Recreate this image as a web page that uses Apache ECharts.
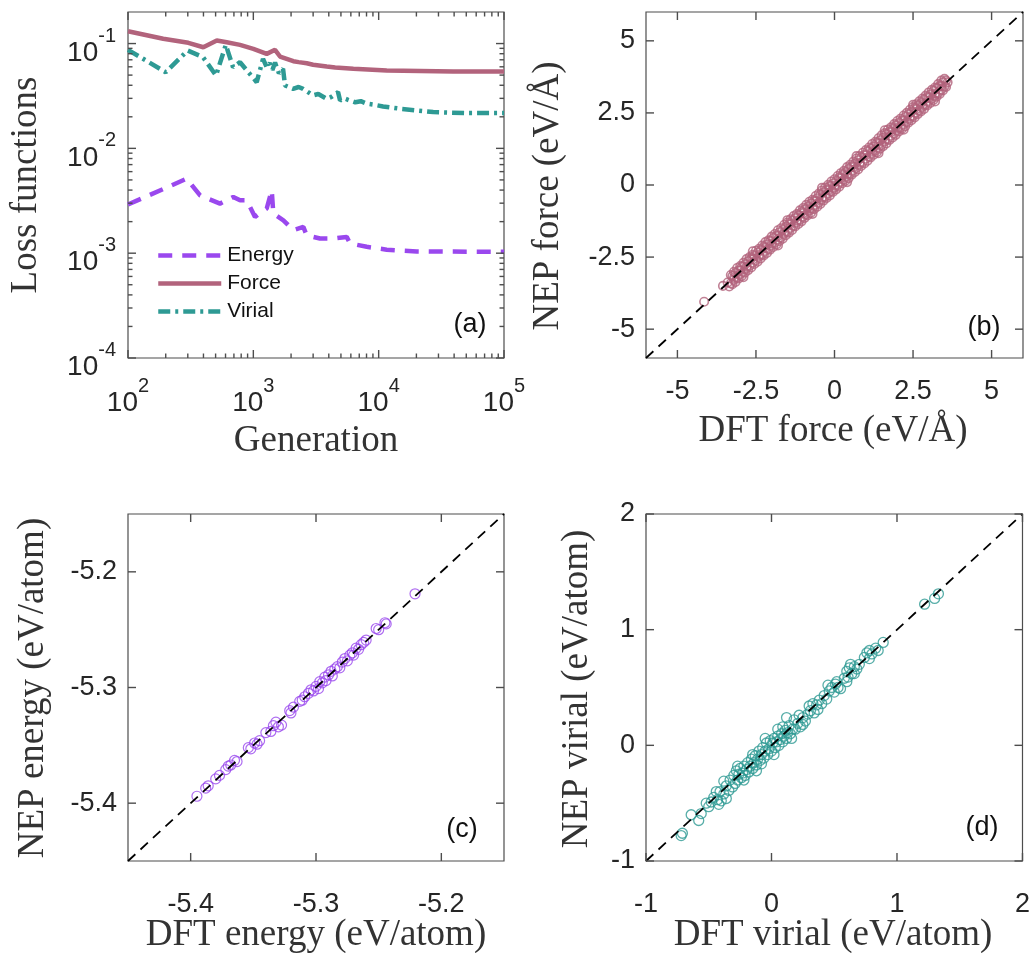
<!DOCTYPE html>
<html><head><meta charset="utf-8">
<script src="https://cdn.jsdelivr.net/npm/echarts@6/dist/echarts.min.js"></script>
<style>html,body{margin:0;padding:0;background:#fff}#c{width:1033px;height:953px}</style>
</head><body><div id="c"></div><script>
// ---------- data ----------
const lossSeriesNames = ['Energy', 'Force', 'Virial'];
const energyLoss = [[100,0.00291],[294,0.00514],[376,0.00356],[542,0.00297],[692,0.00344],[783,0.0032],[885,0.0032],[1031,0.00222],[1279,0.00267],[1402,0.00398],[1444,0.00239],[1736,0.00206],[2085,0.00166],[2505,0.00178],[2667,0.00148],[3404,0.00138],[4348,0.00138],[5559,0.00143],[5912,0.00124],[8035,0.00115],[11600,0.00108],[20100,0.00104],[100000,0.00103]];
const forceLoss = [[100,0.131],[191,0.111],[303,0.1016],[399,0.0922],[511,0.107],[613,0.103],[783,0.0972],[1000,0.0891],[1279,0.0797],[1490,0.0871],[1633,0.0752],[2085,0.0678],[2300,0.0665],[2667,0.0649],[3000,0.0628],[3852,0.0604],[4500,0.0592],[6281,0.0574],[11600,0.0553],[39400,0.0541],[100000,0.054]];
const virialLoss = [[100,0.0871],[200,0.0533],[299,0.0858],[397,0.0741],[504,0.0496],[603,0.0972],[689,0.0594],[783,0.0664],[1064,0.0428],[1195,0.0715],[1279,0.0594],[1350,0.065],[1420,0.056],[1490,0.0659],[1600,0.052],[1726,0.0574],[1790,0.0398],[2075,0.037],[2300,0.0385],[2494,0.037],[2994,0.032],[3300,0.033],[3852,0.0297],[4200,0.031],[4743,0.0344],[4920,0.0286],[5300,0.03],[5912,0.0286],[6500,0.0275],[7200,0.0282],[8035,0.0267],[9000,0.0262],[10840,0.0251],[14820,0.0239],[27200,0.0222],[50500,0.0217],[100000,0.0217]];

// [DFT, NEP] pairs
const forcePoints = [
[-4.15,-4.05],[-3.55,-3.5],
[-3.3,-3.12],[-3.2,-3.01],[-3.1,-2.88],[-3.0,-2.81],[-2.9,-2.7],[-2.8,-2.57],[-2.7,-2.5],[-2.6,-2.42],[-2.5,-2.28],[-2.4,-2.21],[-2.3,-2.1],[-2.2,-1.98],[-2.1,-1.92],[-2.0,-1.79],[-1.9,-1.7],[-1.8,-1.57],[-1.7,-1.5],[-1.6,-1.38],[-1.5,-1.3],[-1.4,-1.19],[-1.3,-1.08],[-1.2,-1.01],[-1.1,-0.88],[-1.0,-0.8],[-0.9,-0.69],[-0.8,-0.58],[-0.7,-0.51],[-0.6,-0.38],[-0.5,-0.3],[-0.4,-0.19],[-0.3,-0.09],[-0.2,0.01],[-0.1,0.12],[0.0,0.2],[0.1,0.31],[0.2,0.41],[0.3,0.49],[0.4,0.62],[0.5,0.7],[0.6,0.81],[0.7,0.92],[0.8,1.0],[0.9,1.12],[1.0,1.21],[1.1,1.3],[1.2,1.42],[1.3,1.5],[1.4,1.62],[1.5,1.72],[1.6,1.8],[1.7,1.92],[1.8,2.0],[1.9,2.11],[2.0,2.22],[2.1,2.3],[2.2,2.41],[2.3,2.5],[2.4,2.61],[2.5,2.7],[2.6,2.8],[2.7,2.9],[2.8,3.0],[2.9,3.1],[3.0,3.21],[3.1,3.3],[3.2,3.38],[3.3,3.5],[3.4,3.62],[3.5,3.68],
[-3.35,-3.52],[-3.25,-3.44],[-3.15,-3.36],[-3.05,-3.24],[-2.95,-3.16],[-2.85,-3.04],[-2.75,-2.95],[-2.65,-2.86],[-2.55,-2.74],[-2.45,-2.66],[-2.35,-2.55],[-2.25,-2.44],[-2.15,-2.36],[-2.05,-2.24],[-1.95,-2.15],[-1.85,-2.06],[-1.75,-1.94],[-1.65,-1.86],[-1.55,-1.74],[-1.45,-1.65],[-1.35,-1.56],[-1.25,-1.44],[-1.15,-1.35],[-1.05,-1.26],[-0.95,-1.14],[-0.85,-1.05],[-0.75,-0.96],[-0.65,-0.84],[-0.55,-0.75],[-0.45,-0.66],[-0.35,-0.54],[-0.25,-0.45],[-0.15,-0.36],[-0.05,-0.24],[0.05,-0.15],[0.15,-0.06],[0.25,0.06],[0.35,0.15],[0.45,0.24],[0.55,0.36],[0.65,0.45],[0.75,0.54],[0.85,0.66],[0.95,0.75],[1.05,0.84],[1.15,0.96],[1.25,1.05],[1.35,1.14],[1.45,1.26],[1.55,1.35],[1.65,1.44],[1.75,1.56],[1.85,1.65],[1.95,1.74],[2.05,1.86],[2.15,1.95],[2.25,2.04],[2.35,2.16],[2.45,2.25],[2.55,2.34],[2.65,2.46],[2.75,2.55],[2.85,2.64],[2.95,2.76],[3.05,2.85],[3.15,2.95],[3.25,3.06],[3.35,3.16],[3.45,3.28],[3.55,3.4],
[-3.4,-3.38],[-3.2,-3.22],[-3.0,-2.97],[-2.8,-2.83],[-2.6,-2.58],[-2.4,-2.43],[-2.2,-2.18],[-2.0,-2.03],[-1.8,-1.77],[-1.6,-1.63],[-1.4,-1.37],[-1.2,-1.23],[-1.0,-0.98],[-0.8,-0.82],[-0.6,-0.57],[-0.4,-0.43],[-0.2,-0.18],[0.0,-0.02],[0.2,0.23],[0.4,0.38],[0.6,0.62],[0.8,0.77],[1.0,1.03],[1.2,1.18],[1.4,1.42],[1.6,1.57],[1.8,1.83],[2.0,1.98],[2.2,2.22],[2.4,2.37],[2.6,2.63],[2.8,2.78],[3.0,3.02],[3.2,3.17],[3.4,3.43],[3.6,3.56],
[-3.25,-3.16],[-3.15,-3.05],[-3.05,-2.96],[-2.95,-2.84],[-2.85,-2.76],[-2.75,-2.64],[-2.65,-2.55],[-2.55,-2.46],[-2.45,-2.35],[-2.35,-2.26],[-2.25,-2.14],[-2.15,-2.06],[-2.05,-1.95],[-1.95,-1.84],[-1.85,-1.76],[-1.75,-1.64],[-1.65,-1.56],[-1.55,-1.45],[-1.45,-1.35],[-1.35,-1.24],[-1.25,-1.15],[-1.15,-1.06],[-1.05,-0.94],[-0.95,-0.85],[-0.85,-0.76],[-0.75,-0.64],[-0.65,-0.55],[-0.55,-0.46],[-0.45,-0.34],[-0.35,-0.25],[-0.25,-0.16],[-0.15,-0.04],[-0.05,0.05],[0.05,0.14],[0.15,0.26],[0.25,0.35],[0.35,0.44],[0.45,0.56],[0.55,0.65],[0.65,0.74],[0.75,0.86],[0.85,0.95],[0.95,1.04],[1.05,1.16],[1.15,1.25],[1.25,1.34],[1.35,1.46],[1.45,1.55],[1.55,1.64],[1.65,1.76],[1.75,1.85],[1.85,1.94],[1.95,2.06],[2.05,2.15],[2.15,2.24],[2.25,2.36],[2.35,2.45],[2.45,2.54],[2.55,2.66],[2.65,2.75],[2.75,2.84],[2.85,2.96],[2.95,3.05],[3.05,3.14],[3.15,3.26],[3.25,3.35],[3.35,3.44],[3.45,3.56],[3.55,3.62],
[-3.3,-3.41],[-3.2,-3.29],[-3.1,-3.21],[-3.0,-3.09],[-2.9,-3.01],[-2.8,-2.89],[-2.7,-2.81],[-2.6,-2.69],[-2.5,-2.61],[-2.4,-2.49],[-2.3,-2.41],[-2.2,-2.29],[-2.1,-2.21],[-2.0,-2.09],[-1.9,-2.01],[-1.8,-1.89],[-1.7,-1.81],[-1.6,-1.69],[-1.5,-1.61],[-1.4,-1.49],[-1.3,-1.41],[-1.2,-1.29],[-1.1,-1.21],[-1.0,-1.09],[-0.9,-1.01],[-0.8,-0.89],[-0.7,-0.81],[-0.6,-0.69],[-0.5,-0.61],[-0.4,-0.49],[-0.3,-0.41],[-0.2,-0.29],[-0.1,-0.21],[0.0,-0.09],[0.1,-0.01],[0.2,0.11],[0.3,0.19],[0.4,0.31],[0.5,0.39],[0.6,0.51],[0.7,0.59],[0.8,0.71],[0.9,0.79],[1.0,0.91],[1.1,0.99],[1.2,1.11],[1.3,1.19],[1.4,1.31],[1.5,1.39],[1.6,1.51],[1.7,1.59],[1.8,1.71],[1.9,1.79],[2.0,1.91],[2.1,1.99],[2.2,2.11],[2.3,2.19],[2.4,2.31],[2.5,2.39],[2.6,2.51],[2.7,2.59],[2.8,2.71],[2.9,2.79],[3.0,2.91],[3.1,2.99],[3.2,3.11],[3.3,3.19],[3.4,3.31],[3.5,3.42],
[-2.6,-2.3],[-1.5,-1.22],[-0.4,-0.1],[0.7,1.0],[1.6,1.9],[2.5,2.78],[-2.9,-3.2],[-1.8,-2.1],[-0.7,-1.0],[0.4,0.1],[1.4,1.1],[2.2,1.92],[3.2,2.9]
];
const energyPoints = [[-5.395,-5.394],[-5.388,-5.387],[-5.386,-5.385],[-5.380,-5.379],[-5.377,-5.376],[-5.372,-5.371],[-5.370,-5.368],[-5.368,-5.367],[-5.365,-5.363],[-5.363,-5.364],[-5.354,-5.352],[-5.352,-5.353],[-5.349,-5.348],[-5.347,-5.349],[-5.345,-5.346],[-5.340,-5.339],[-5.336,-5.338],[-5.334,-5.333],[-5.332,-5.330],[-5.330,-5.334],[-5.3275,-5.3325],[-5.321,-5.320],[-5.320,-5.322],[-5.318,-5.317],[-5.313,-5.312],[-5.311,-5.311],[-5.309,-5.308],[-5.306,-5.305],[-5.304,-5.302],[-5.302,-5.303],[-5.300,-5.299],[-5.298,-5.301],[-5.297,-5.295],[-5.295,-5.296],[-5.293,-5.291],[-5.292,-5.294],[-5.290,-5.289],[-5.288,-5.286],[-5.287,-5.290],[-5.285,-5.284],[-5.283,-5.282],[-5.281,-5.283],[-5.279,-5.278],[-5.277,-5.275],[-5.275,-5.277],[-5.273,-5.272],[-5.271,-5.270],[-5.270,-5.272],[-5.268,-5.266],[-5.266,-5.267],[-5.264,-5.263],[-5.262,-5.261],[-5.260,-5.259],[-5.252,-5.249],[-5.250,-5.250],[-5.245,-5.244],[-5.244,-5.245],[-5.221,-5.219]];
const virialPoints = [[-0.72,-0.78],[-0.71,-0.76],[-0.64,-0.60],[-0.58,-0.65],[-0.56,-0.59],[-0.52,-0.50],[-0.50,-0.53],[-0.48,-0.49],[-0.46,-0.45],[-0.43,-0.47],[-0.42,-0.51],[-0.40,-0.48],[-0.41,-0.40],[-0.38,-0.42],[-0.36,-0.35],[-0.34,-0.39],[-0.33,-0.30],[-0.31,-0.36],[-0.30,-0.26],[-0.29,-0.33],[-0.28,-0.22],[-0.27,-0.30],[-0.26,-0.25],[-0.25,-0.20],[-0.24,-0.28],[-0.23,-0.24],[-0.22,-0.18],[-0.21,-0.26],[-0.20,-0.21],[-0.19,-0.15],[-0.18,-0.23],[-0.17,-0.18],[-0.16,-0.12],[-0.15,-0.20],[-0.14,-0.15],[-0.13,-0.09],[-0.12,-0.17],[-0.11,-0.12],[-0.10,-0.05],[-0.09,-0.13],[-0.08,-0.08],[-0.07,-0.02],[-0.06,-0.11],[-0.05,-0.05],[-0.04,0.02],[-0.03,-0.08],[-0.02,-0.03],[-0.01,0.04],[0.0,-0.05],[0.01,0.02],[0.02,0.06],[0.03,-0.02],[0.04,0.03],[0.05,0.08],[0.06,0.0],[0.07,0.05],[0.08,0.10],[0.09,0.03],[0.10,0.08],[0.11,0.13],[0.12,0.06],[0.12,0.24],[0.13,0.11],[0.14,0.17],[0.15,0.10],[0.17,0.14],[0.18,0.22],[0.19,0.14],[0.21,0.19],[0.23,0.16],[0.25,0.24],[0.27,0.21],[0.29,0.27],[0.31,0.30],[0.33,0.36],[0.34,0.28],[0.36,0.35],[0.38,0.39],[0.40,0.36],[0.42,0.43],[0.44,0.40],[0.46,0.47],[0.48,0.50],[0.50,0.46],[0.51,0.53],[0.53,0.50],[0.55,0.49],[0.58,0.58],[0.60,0.64],[0.61,0.59],[0.62,0.67],[0.64,0.62],[0.66,0.68],[0.68,0.66],[0.70,0.70],[0.74,0.76],[0.76,0.80],[0.78,0.75],[0.80,0.79],[0.83,0.84],[0.85,0.82],[0.89,0.89],[1.22,1.22],[1.30,1.27],[1.33,1.31],
[-0.27,-0.18],[-0.22,-0.30],[-0.15,-0.08],[-0.12,-0.22],[-0.05,0.06],[-0.08,-0.16],[0.02,-0.08],[0.05,0.14],[0.09,0.16],[0.16,0.06],[0.22,0.26],[0.25,0.18],[0.30,0.34],[0.37,0.31],[0.45,0.52],[0.52,0.55],[0.60,0.55],[0.63,0.70],[0.66,0.62],[0.78,0.82],[-0.38,-0.31],[-0.36,-0.46],[-0.44,-0.40]];

const forceTicks = [-5, -2.5, 0, 2.5, 5];
const energyTicks = [-5.4, -5.3, -5.2];
const virialTicks = [-1, 0, 1, 2];
const genMajorTicks = [100, 1000, 10000, 100000];
const lossMajorTicks = [0.0001, 0.001, 0.01, 0.1];

// ---------- style ----------
const SANS = '"Liberation Sans", Arial, Helvetica, sans-serif';
const SERIF = '"Liberation Serif", "Times New Roman", serif';
const AXC = '#4d4d4d';
const TXT = '#262626';
const C_E = '#9a48ee', C_F = '#b2637c', C_V = '#2e9a94';

const grids = [
  {left:128, top:12, width:376, height:346},
  {left:646, top:12, width:377, height:346},
  {left:128, top:514, width:376, height:347},
  {left:646, top:514, width:377, height:347}
];
const ranges = [
  {x:[100,100000], y:[0.0001,0.2]},
  {x:[-6,6], y:[-6,6]},
  {x:[-5.45,-5.15], y:[-5.45,-5.15]},
  {x:[-1,2], y:[-1,2]}
];

function supLabel(v){
  const e = Math.round(Math.log10(v));
  if (Math.abs(v / Math.pow(10, e) - 1) > 1e-6) return '';
  return '{b|10}{s|' + e + '}';
}
const supRich = {
  b:{fontSize:28, fontFamily:SANS, color:TXT, lineHeight:30, padding:[19,0,0,0]},
  s:{fontSize:20, fontFamily:SANS, color:TXT, lineHeight:20, padding:[0,0,15,0]}
};

// minor tick positions of the log panel (2..9 x 10^k)
const minorGen = [], minorLoss = [];
for (let d = 2; d < 5; d++) for (let k = 2; k <= 9; k++) minorGen.push(k * Math.pow(10, d));
for (let d = -4; d < -1; d++) for (let k = 2; k <= 9; k++) minorLoss.push(k * Math.pow(10, d));

const fmt = v => String(+(+v).toFixed(2));
function mainAx(g, dim, type, ticks){
  const r = ranges[g][dim];
  const ax = {gridIndex:g, type:type, min:r[0], max:r[1], position: dim === 'x' ? 'bottom' : 'left',
    axisLine:{show:false, onZero:false}, axisTick:{show:false}, splitLine:{show:false}, minorTick:{show:false},
    axisLabel:{show:true, fontSize:27, fontFamily:SANS, color:TXT, margin: dim === 'x' ? 20 : 11}};
  if (type === 'log') {
    ax.logBase = 10;
    ax.axisLabel.formatter = supLabel; ax.axisLabel.rich = supRich;
    ax.axisLabel.margin = dim === 'x' ? 21 : 12;
  } else {
    ax.axisLabel.customValues = ticks; ax.axisLabel.formatter = fmt;
  }
  return ax;
}

const xAxis = [mainAx(0,'x','log'), mainAx(1,'x','value',forceTicks), mainAx(2,'x','value',energyTicks), mainAx(3,'x','value',virialTicks)];
const yAxis = [mainAx(0,'y','log'), mainAx(1,'y','value',forceTicks), mainAx(2,'y','value',energyTicks), mainAx(3,'y','value',virialTicks)];
xAxis[2].axisLabel.margin = 30; xAxis[3].axisLabel.margin = 30;

function scatter(g, data, color, size, bw){
  return {type:'scatter', xAxisIndex:g, yAxisIndex:g, data:data, symbol:'circle', symbolSize:size,
    itemStyle:{color:'rgba(0,0,0,0)', borderColor:color, borderWidth:bw}, z:2, silent:true};
}
function diag(g){
  const r = ranges[g].x;
  return {type:'line', xAxisIndex:g, yAxisIndex:g, data:[[r[0],r[0]],[r[1],r[1]]], symbol:'none',
    lineStyle:{color:'#000', width:1.8, type:[10,7]}, z:5, silent:true};
}

const series = [
  {name:lossSeriesNames[0], type:'line', xAxisIndex:0, yAxisIndex:0, data:energyLoss, symbol:'none',
   lineStyle:{color:C_E, width:4.5, type:[14,10]}, itemStyle:{color:C_E}},
  {name:lossSeriesNames[1], type:'line', xAxisIndex:0, yAxisIndex:0, data:forceLoss, symbol:'none',
   lineStyle:{color:C_F, width:4.5}, itemStyle:{color:C_F}},
  {name:lossSeriesNames[2], type:'line', xAxisIndex:0, yAxisIndex:0, data:virialLoss, symbol:'none',
   lineStyle:{color:C_V, width:4.5, type:[12,5,3,5]}, itemStyle:{color:C_V}},
  scatter(1, forcePoints, C_F, 8.5, 1.6), diag(1),
  scatter(2, energyPoints, C_E, 10, 1.2), diag(2),
  scatter(3, virialPoints, C_V, 10, 1.3), diag(3)
];

function title(text, x, y, rot){
  return {type:'text', x:x, y:y, rotation:rot ? Math.PI/2 : 0, z:10,
    style:{text:text, font:'37px ' + SERIF, fill:'#333', textAlign:'center', textVerticalAlign:'middle'}};
}
function tag(text, x, y){
  return {type:'text', x:x, y:y, z:10, style:{text:text, font:'27px ' + SANS, fill:'#111', textAlign:'center', textVerticalAlign:'middle'}};
}

const chart = echarts.init(document.getElementById('c'), null, {renderer:'canvas'});
chart.setOption({
  animation:false,
  backgroundColor:'#fff',
  grid:grids.map(g => Object.assign({show:true, borderColor:AXC, borderWidth:1.2, backgroundColor:'rgba(0,0,0,0)', containLabel:false}, g)),
  xAxis:xAxis, yAxis:yAxis, series:series,
  legend:{data:lossSeriesNames, orient:'vertical', left:156, top:245, padding:0, itemWidth:63, itemHeight:16, itemGap:7,
    itemStyle:{opacity:0, borderWidth:0}, lineStyle:{width:4.5},
    textStyle:{fontSize:21, fontFamily:SANS, color:'#111', padding:[0,0,0,1]}, selectedMode:false}
});

// inside ticks on all four sides, located through the axes' own scales
const tickGraphics = [];
function addTicks(g, xt, yt, len){
  const r = ranges[g], finder = {xAxisIndex:g, yAxisIndex:g};
  const st = {stroke:AXC, lineWidth:1.4};
  xt.forEach(v => {
    const a = chart.convertToPixel(finder, [v, r.y[0]]), b = chart.convertToPixel(finder, [v, r.y[1]]);
    tickGraphics.push({type:'line', z:8, silent:true, shape:{x1:a[0], y1:a[1], x2:a[0], y2:a[1]-len}, style:st});
    tickGraphics.push({type:'line', z:8, silent:true, shape:{x1:b[0], y1:b[1], x2:b[0], y2:b[1]+len}, style:st});
  });
  yt.forEach(v => {
    const a = chart.convertToPixel(finder, [r.x[0], v]), b = chart.convertToPixel(finder, [r.x[1], v]);
    tickGraphics.push({type:'line', z:8, silent:true, shape:{x1:a[0], y1:a[1], x2:a[0]+len, y2:a[1]}, style:st});
    tickGraphics.push({type:'line', z:8, silent:true, shape:{x1:b[0], y1:b[1], x2:b[0]-len, y2:b[1]}, style:st});
  });
}
addTicks(0, genMajorTicks, lossMajorTicks, 8);
addTicks(0, minorGen, minorLoss, 4.5);
addTicks(1, forceTicks, forceTicks, 8);
addTicks(2, energyTicks, energyTicks, 8);
addTicks(3, virialTicks, virialTicks, 8);

chart.setOption({graphic: [
  title('Loss functions', 26, 185, true),
  title('Generation', 316, 441, false),
  title('NEP force (eV/Å)', 548, 196, true),
  title('DFT force (eV/Å)', 833, 431, false),
  title('NEP energy (eV/atom)', 33, 688, true),
  title('DFT energy (eV/atom)', 316, 935, false),
  title('NEP virial (eV/atom)', 577, 689, true),
  title('DFT virial (eV/atom)', 833, 935, false),
  tag('(a)', 470, 325), tag('(b)', 984, 328), tag('(c)', 462, 830), tag('(d)', 982, 828)
].concat(tickGraphics)});
</script></body></html>
